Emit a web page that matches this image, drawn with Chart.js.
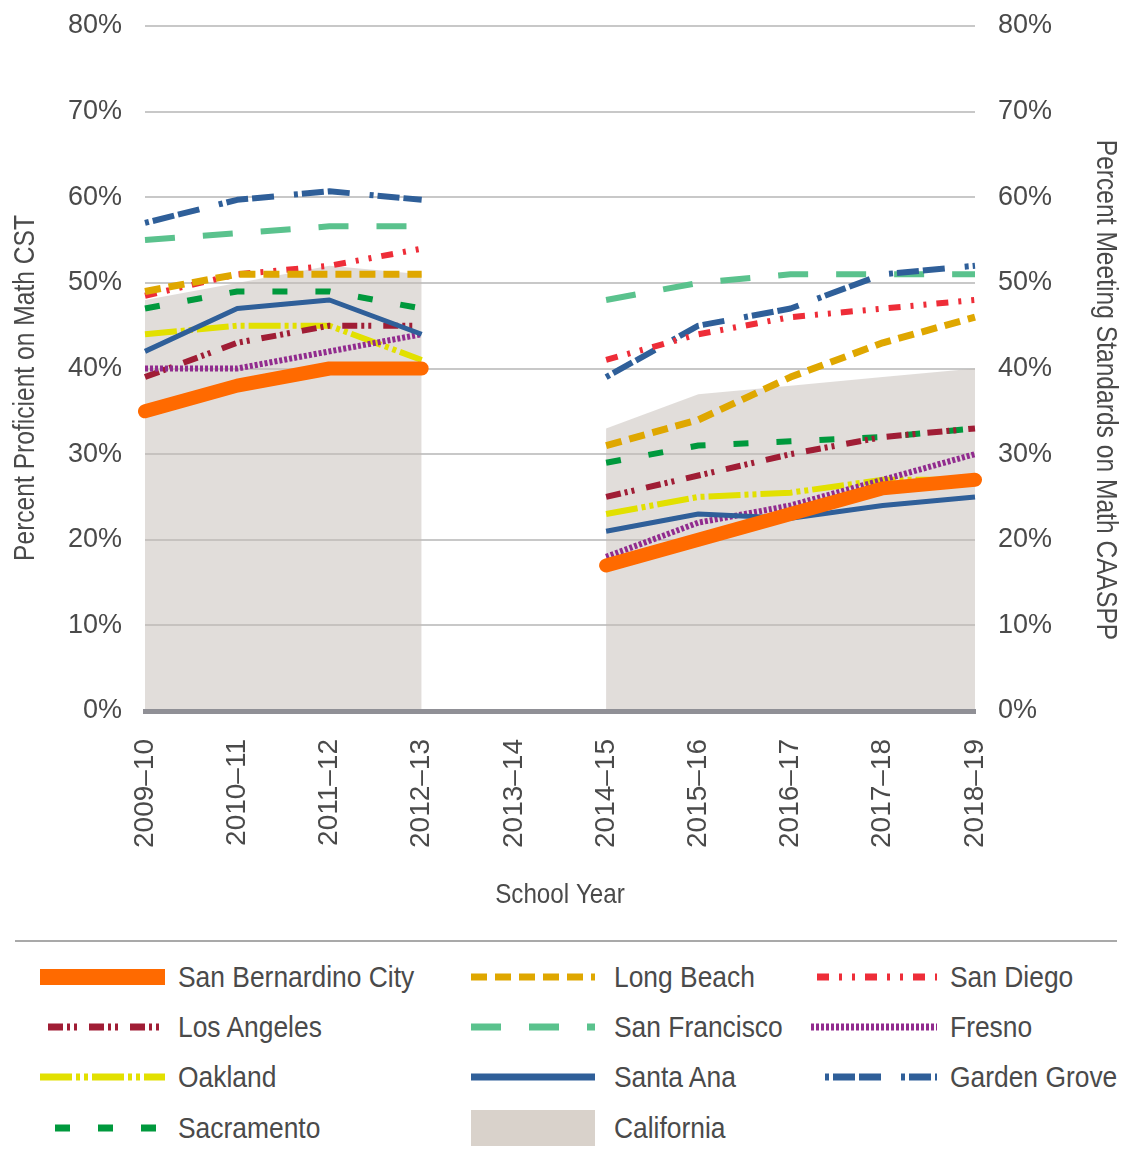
<!DOCTYPE html>
<html><head><meta charset="utf-8">
<script src="https://cdn.jsdelivr.net/npm/chart.js@4"></script>
<style>
html,body{margin:0;padding:0;background:#fff;width:1124px;height:1154px;overflow:hidden}
#wrap{position:relative;width:1124px;height:1154px}
#c{position:absolute;left:0;top:0}
#rule{position:absolute;left:15px;top:940px;width:1102px;height:2px;background:#a9a9a9}
.txt{position:absolute;height:40px;line-height:40px;font-family:"Liberation Sans",Arial,sans-serif;font-size:30px;color:#4a4a4a;white-space:nowrap;transform:scaleX(0.88);transform-origin:0 50%}
svg.sw{position:absolute;overflow:visible}
</style></head>
<body><div id="wrap"><canvas id="c" width="1124" height="935"></canvas><div id="rule"></div></div>
<script>
// ---- data ----
const schoolYears = ['2009–10','2010–11','2011–12','2012–13','2013–14','2014–15','2015–16','2016–17','2017–18','2018–19'];
const yTickLabels = ['0%','10%','20%','30%','40%','50%','60%','70%','80%'];
const sanBernardino = [35, 38, 40, 40, null, 17, 20, 23, 26, 27];
const longBeach     = [49, 51, 51, 51, null, 31, 34, 39, 43, 46];
const sanDiego      = [48.5, 51, 52, 54, null, 41, 44, 46, 47, 48];
const losAngeles    = [39, 43, 45, 45, null, 25, 27.5, 30, 32, 33];
const sanFrancisco  = [55, 55.8, 56.6, 56.6, null, 48, 50, 51, 51, 51];
const fresno        = [40, 40, 42, 44, null, 18, 22, 24, 27, 30];
const oakland       = [44, 45, 45, 41, null, 23, 25, 25.5, 27, 27];
const santaAna      = [42, 47, 48, 44, null, 21, 23, 22.5, 24, 25];
const gardenGrove   = [57, 59.7, 60.7, 59.7, null, 39, 45, 47, 51, 52];
const sacramento    = [47, 49, 49, 47, null, 29, 31, 31.5, 32, 33];
const california    = [48, 50, 52, 51, null, 33, 37, 38, 39, 40];
const xTitle  = 'School Year';
const yTitle  = 'Percent Proficient on Math CST';
const y2Title = 'Percent Meeting Standards on Math CAASPP';

// ---- styles ----
const TXT = '#4a4a4a';
const styles = {
  'San Bernardino City': {color:'#ff6a00', width:14, dash:[], cap:'round', order:0},
  'Long Beach':   {color:'#dfa700', width:7, dash:[16,8], order:5},
  'San Diego':    {color:'#ee2d38', width:6, dash:[12,10,3,10,3,10], order:6},
  'Los Angeles':  {color:'#a01d35', width:6, dash:[15,4,3,4,3,12], order:3},
  'San Francisco':{color:'#5ac28d', width:6, dash:[30,28], order:8},
  'Fresno':       {color:'#912b8e', width:6, dash:[3,2], order:2},
  'Oakland':      {color:'#e2e000', width:6, dash:[32,4,4,4,4,4], order:4},
  'Santa Ana':    {color:'#2f5f99', width:5, dash:[], order:1},
  'Garden Grove': {color:'#2f5f99', width:6, dash:[4,4,22,4,22,20], order:7},
  'Sacramento':   {color:'#00993d', width:6, dash:[15,28], order:9}
};
const seriesData = {
  'San Bernardino City': sanBernardino, 'Long Beach': longBeach, 'San Diego': sanDiego,
  'Los Angeles': losAngeles, 'San Francisco': sanFrancisco, 'Fresno': fresno,
  'Oakland': oakland, 'Santa Ana': santaAna, 'Garden Grove': gardenGrove, 'Sacramento': sacramento
};

const datasets = Object.keys(seriesData).map(name => {
  const s = styles[name];
  return {label:name, data:seriesData[name], borderColor:s.color, backgroundColor:s.color,
    borderWidth:s.width, borderDash:s.dash, borderCapStyle:s.cap||'butt', borderJoinStyle:'round',
    pointRadius:0, pointHoverRadius:0, tension:0, spanGaps:false, fill:false, order:s.order};
});
datasets.push({label:'California', data:california, borderWidth:0, borderColor:'rgba(0,0,0,0)',
  backgroundColor:'rgba(195,187,181,0.5)', fill:'origin', pointRadius:0, spanGaps:false, order:100});

// condensed axis titles (no condensed font installed -> horizontal scaling)
const condTitles = {
  id:'condTitles',
  afterDraw(chart){
    const ctx = chart.ctx, ca = chart.chartArea;
    const draw = (text, x, y, rot, size, sx) => {
      ctx.save(); ctx.translate(x, y); ctx.rotate(rot); ctx.scale(sx, 1);
      ctx.font = size + 'px "Liberation Sans", Arial, sans-serif';
      ctx.fillStyle = TXT; ctx.textAlign = 'center'; ctx.textBaseline = 'middle';
      ctx.fillText(text, 0, 0); ctx.restore();
    };
    draw(xTitle, (ca.left + ca.right) / 2, 895, 0, 28, 0.865);
    draw(yTitle, 26, 388, -Math.PI / 2, 30, 0.82);
    draw(y2Title, 1105, 390, Math.PI / 2, 30, 0.82);
  }
};

const tickFont = {family:'"Liberation Sans", Arial, sans-serif', size:27};
const fitV = w => s => { s.width = w; s.paddingTop = 0; s.paddingBottom = 0; };
new Chart(document.getElementById('c'), {
  type:'line',
  data:{labels:schoolYears, datasets},
  plugins:[condTitles],
  options:{
    responsive:false, animation:false, devicePixelRatio:1,
    layout:{padding:{top:26,left:0,right:0,bottom:0}},
    plugins:{legend:{display:false}, tooltip:{enabled:false}},
    scales:{
      x:{type:'category', offset:false,
        grid:{display:false, drawTicks:false},
        border:{display:true, color:'#909096', width:5, z:1},
        ticks:{autoSkip:false, maxRotation:90, minRotation:90, padding:28, color:TXT, font:{family:tickFont.family, size:28}},
        title:{display:false},
        afterFit(s){ s.height = 224; }
      },
      y:{position:'left', min:0, max:80,
        grid:{color:c => c.tick.value === 0 ? 'rgba(0,0,0,0)' : '#c8c8c8', lineWidth:2, drawTicks:false},
        border:{display:false},
        ticks:{stepSize:10, padding:23, color:TXT, font:tickFont, callback:(v,i) => yTickLabels[i]},
        title:{display:false},
        afterFit: fitV(145)
      },
      y2:{position:'right', min:0, max:80,
        grid:{display:false, drawTicks:false}, border:{display:false},
        ticks:{stepSize:10, padding:23, color:TXT, font:tickFont, callback:(v,i) => yTickLabels[i]},
        title:{display:false},
        afterFit: fitV(149)
      }
    }
  }
});

// ---- legend (HTML) ----
const legendItems = [
  ['San Bernardino City',0,0],['Long Beach',1,0],['San Diego',2,0],
  ['Los Angeles',0,1],['San Francisco',1,1],['Fresno',2,1],
  ['Oakland',0,2],['Santa Ana',1,2],['Garden Grove',2,2],
  ['Sacramento',0,3],['California',1,3]
];
const colText = [178, 614, 950];
const rowY = [977, 1027, 1077, 1128];
const swatchX = {'San Bernardino City':[40,165],'Long Beach':[471,595],'San Diego':[817,937],
  'Los Angeles':[48,165],'San Francisco':[471,595],'Fresno':[811,937],
  'Oakland':[40,165],'Santa Ana':[471,595],'Garden Grove':[825,937],
  'Sacramento':[55,165],'California':[471,595]};
const wrap = document.getElementById('wrap');
legendItems.forEach(([name,col,row]) => {
  const y = rowY[row];
  const [x1,x2] = swatchX[name];
  const w = x2 - x1;
  const svgNS = 'http://www.w3.org/2000/svg';
  const svg = document.createElementNS(svgNS,'svg');
  svg.setAttribute('class','sw');
  svg.setAttribute('width', w); svg.setAttribute('height', 40);
  svg.style.left = x1 + 'px'; svg.style.top = (y - 20) + 'px';
  if (name === 'California') {
    const r = document.createElementNS(svgNS,'rect');
    r.setAttribute('x',0); r.setAttribute('y',2); r.setAttribute('width',w); r.setAttribute('height',36);
    r.setAttribute('fill','#d9d2cb'); svg.appendChild(r);
  } else if (name === 'San Bernardino City') {
    const r = document.createElementNS(svgNS,'rect');
    r.setAttribute('x',0); r.setAttribute('y',12); r.setAttribute('width',w); r.setAttribute('height',16);
    r.setAttribute('fill',styles[name].color); svg.appendChild(r);
  } else {
    const s = styles[name];
    const l = document.createElementNS(svgNS,'line');
    l.setAttribute('x1',0); l.setAttribute('x2',w); l.setAttribute('y1',20); l.setAttribute('y2',20);
    l.setAttribute('stroke',s.color); l.setAttribute('stroke-width',7);
    if (s.dash.length) l.setAttribute('stroke-dasharray', s.dash.join(' '));
    svg.appendChild(l);
  }
  wrap.appendChild(svg);
  const t = document.createElement('div');
  t.className = 'txt'; t.textContent = name;
  t.style.left = colText[col] + 'px'; t.style.top = (y - 20) + 'px';
  wrap.appendChild(t);
});
</script></body></html>
